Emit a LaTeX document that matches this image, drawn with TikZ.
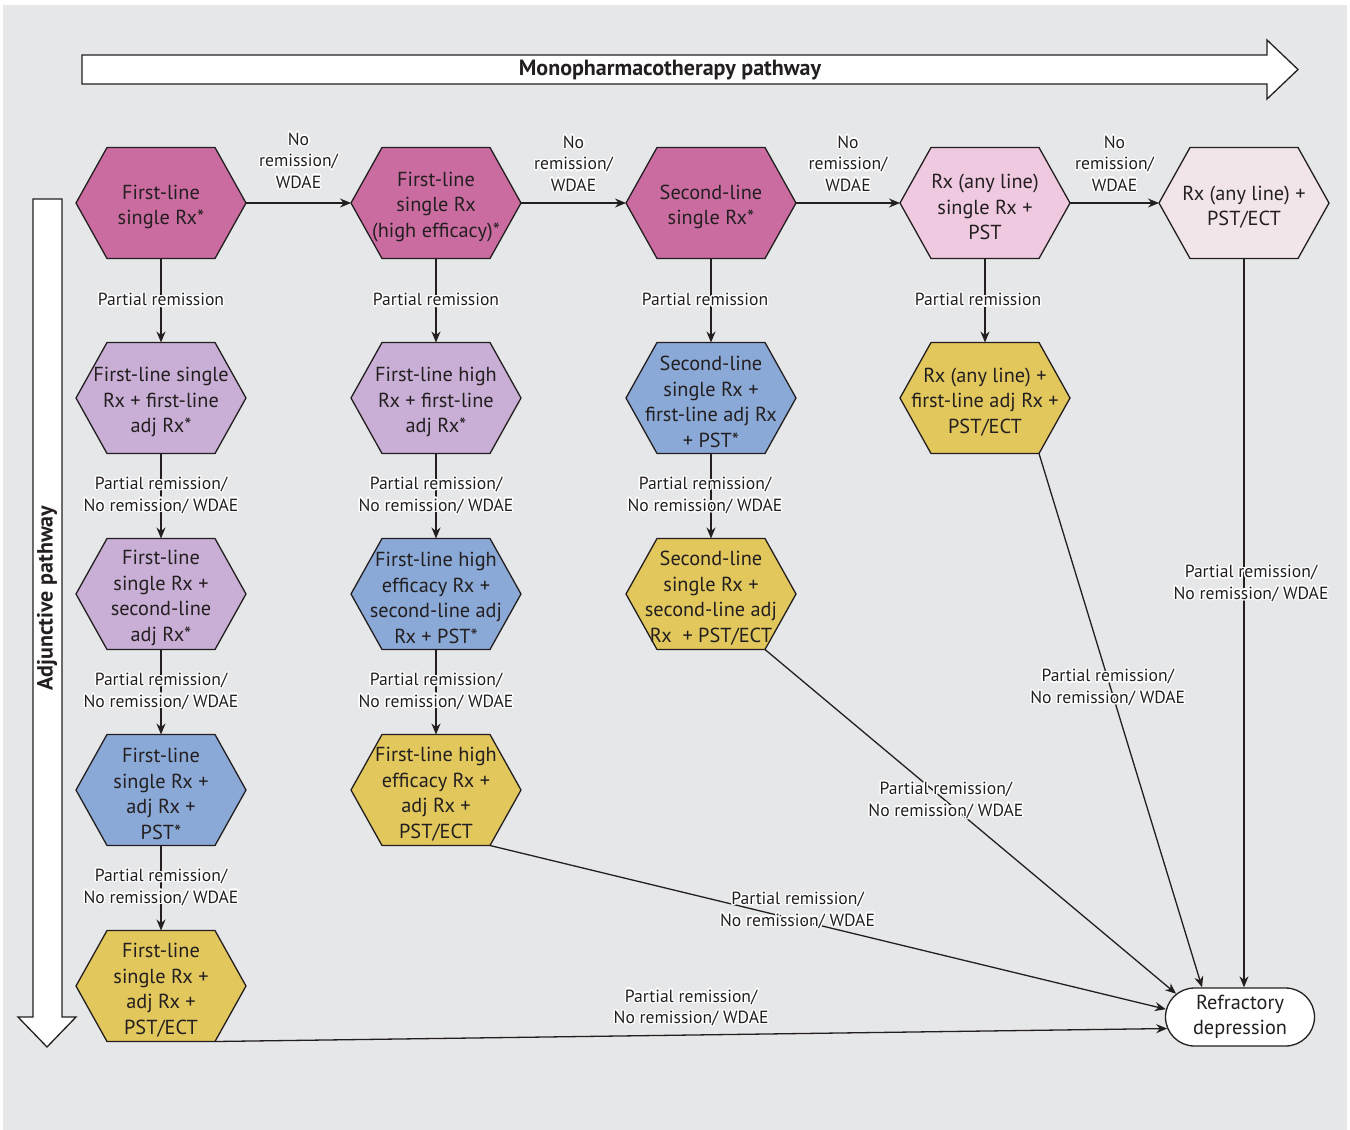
\documentclass[tikz,border=0pt]{standalone}
\usepackage{fontspec}
\setmainfont{PT Sans}
\usepackage[copies]{contour}
\usetikzlibrary{arrows.meta,shapes.misc}
\definecolor{bggrey}{HTML}{E6E7E8}
\definecolor{ink}{HTML}{231F20}
\definecolor{hexmag}{HTML}{CB6CA1}
\definecolor{hexpink}{HTML}{EFC9DF}
\definecolor{hexblush}{HTML}{F1E5E9}
\definecolor{hexlav}{HTML}{C9AFD5}
\definecolor{hexblue}{HTML}{8BA9D7}
\definecolor{hexgold}{HTML}{E1C75C}

\contourlength{1.4pt}
\newcommand{\halo}[1]{\contour{white}{#1}}
\newcommand{\nrw}{\halo{No}\\\halo{remission/}\\\halo{WDAE}}
\newcommand{\prnrw}{\halo{Partial remission/}\\\halo{No remission/ WDAE}}

% hexagon: name, centre, fill, text
\newcommand{\hexnode}[4]{%
  \begin{scope}[shift={#2}]
    \draw[inkline, fill=#3] (-85,0) -- (-54,-55.5) -- (54,-55.5) -- (85,0) -- (54,55.5) -- (-54,55.5) -- cycle;
    \coordinate (#1-n) at (0,-55.5);
    \coordinate (#1-s) at (0,55.5);
    \coordinate (#1-e) at (85,0);
    \coordinate (#1-w) at (-85,0);
    \coordinate (#1-se) at (54,55.5);
    \node[hexlbl] (#1) at (0,4) {#4};
  \end{scope}}

\begin{document}
\begin{tikzpicture}[x=1pt,y=1pt,yscale=-1,
  inkline/.style={draw=ink, line width=1.3},
  flow/.style={inkline, -{Stealth[length=11pt,width=9pt]}},
  hexlbl/.style={text=ink, align=center, inner sep=0, font=\fontsize{20.3}{25.5}\selectfont},
  lbl/.style={text=ink, align=center, inner sep=0, font=\fontsize{17.6}{21.5}\selectfont},
  bigtext/.style={text=ink, inner sep=0, font=\fontsize{22}{26}\selectfont\bfseries}]
\useasboundingbox (0,0) rectangle (1350,1130);
\fill[bggrey] (3,5) rectangle (1347,1130);

% Pathway arrows
\draw[inkline, fill=white] (82,55) -- (1267,55) -- (1267,40) -- (1298,69.5) -- (1267,99) -- (1267,84) -- (82,84) -- cycle;
\node[bigtext] (mono) at (670,70) {Monopharmacotherapy pathway};
\draw[inkline, fill=white] (33,199) -- (62,199) -- (62,1017) -- (76,1017) -- (47,1047) -- (18,1017) -- (33,1017) -- cycle;
\node[bigtext, rotate=90] (adju) at (47,598) {Adjunctive pathway};

% Row 1
\hexnode{fs}{(161,203)}{hexmag}{First-line\\single Rx*}
\hexnode{fh}{(436,203)}{hexmag}{First-line\\single Rx\\(high efficacy)*}
\hexnode{ss}{(711,203)}{hexmag}{Second-line\\single Rx*}
\hexnode{any}{(985,203)}{hexpink}{Rx (any line)\\single Rx +\\PST}
\hexnode{anyect}{(1244,203)}{hexblush}{Rx (any line) +\\PST/ECT}
% Row 2
\hexnode{fsadj}{(161,398)}{hexlav}{First-line single\\Rx + first-line\\adj Rx*}
\hexnode{fhadj}{(436,398)}{hexlav}{First-line high\\Rx + first-line\\adj Rx*}
\hexnode{ssadj}{(711,398)}{hexblue}{Second-line\\single Rx +\\first-line adj Rx\\+ PST*}
\hexnode{anyadj}{(985,398)}{hexgold}{Rx (any line) +\\first-line adj Rx +\\PST/ECT}
% Row 3
\hexnode{fssec}{(161,594)}{hexlav}{First-line\\single Rx +\\second-line\\adj Rx*}
\hexnode{fhsec}{(436,594)}{hexblue}{First-line high\\efficacy Rx +\\second-line adj\\Rx + PST*}
\hexnode{sssec}{(711,594)}{hexgold}{Second-line\\single Rx +\\second-line adj\\Rx\ \ + PST/ECT}
% Row 4
\hexnode{fspst}{(161,790)}{hexblue}{First-line\\single Rx +\\adj Rx +\\PST*}
\hexnode{fhect}{(436,790)}{hexgold}{First-line high\\efficacy Rx +\\adj Rx +\\PST/ECT}
% Row 5
\hexnode{fsect}{(161,986)}{hexgold}{First-line\\single Rx +\\adj Rx +\\PST/ECT}

% Refractory
\node[inkline, fill=white, rounded rectangle, minimum width=149, minimum height=58, hexlbl] (refr) at (1240,1017) {Refractory\\depression};

% No remission arrows
\draw[flow] (fs-e) -- node[lbl, above=12.5pt] {\nrw} (fh-w);
\draw[flow] (fh-e) -- node[lbl, above=9.5pt] {\nrw} (ss-w);
\draw[flow] (ss-e) -- node[lbl, above=9.5pt] {\nrw} (any-w);
\draw[flow] (any-e) -- node[lbl, above=9.5pt] {\nrw} (anyect-w);

% Partial remission arrows
\draw[flow] (fs-s) -- node[lbl] {\halo{Partial remission}} (fsadj-n);
\draw[flow] (fh-s) -- node[lbl] {\halo{Partial remission}} (fhadj-n);
\draw[flow] (ss-s) -- node[lbl, xshift=-6] {\halo{Partial remission}} (ssadj-n);
\draw[flow] (any-s) -- node[lbl, xshift=-7] {\halo{Partial remission}} (anyadj-n);

\draw[flow] (fsadj-s) -- node[lbl] {\prnrw} (fssec-n);
\draw[flow] (fhadj-s) -- node[lbl] {\prnrw} (fhsec-n);
\draw[flow] (ssadj-s) -- node[lbl, xshift=-6] {\prnrw} (sssec-n);
\draw[flow] (fssec-s) -- node[lbl] {\prnrw} (fspst-n);
\draw[flow] (fhsec-s) -- node[lbl] {\prnrw} (fhect-n);
\draw[flow] (fspst-s) -- node[lbl] {\prnrw} (fsect-n);

% To refractory depression
\draw[flow] (anyect-s) -- node[lbl, pos=0.447, xshift=7] {\prnrw} (anyect-s |- refr.north);
\draw[flow] (anyadj-se) -- node[lbl, pos=0.44, xshift=-3] {\prnrw} (refr.142);
\draw[flow] (sssec-se) -- node[lbl, pos=0.44] {\prnrw} (refr.160);
\draw[flow] (fhect-se) -- node[lbl, pos=0.455, yshift=9] {\prnrw} (refr.174);
\draw[flow] (fsect-se) -- node[lbl, above=7pt] {\prnrw} (refr.189);

\end{tikzpicture}
\end{document}
